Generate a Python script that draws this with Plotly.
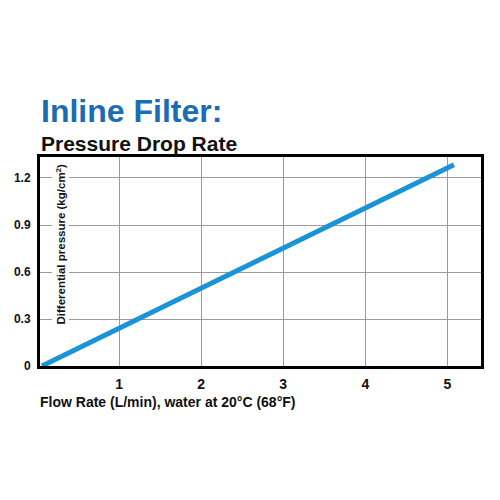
import plotly.graph_objects as go

flow = [0.06, 5.08]
pressure = [0.0, 1.285]
x_ticks = [1, 2, 3, 4, 5]
y_ticks = [0, 0.3, 0.6, 0.9, 1.2]
y_tick_labels = ["0", "0.3", "0.6", "0.9", "1.2"]

W, H = 492, 492
L, R, T, B = 32, 19, 149, 134
PW, PH = W - L - R, H - T - B

fig = go.Figure()
fig.add_trace(go.Scatter(x=flow, y=pressure, mode="lines",
                         line=dict(color="#1a94d6", width=5), showlegend=False))

fig.update_layout(
    width=W, height=H,
    margin=dict(l=L, r=R, t=T, b=B),
    paper_bgcolor="white", plot_bgcolor="white",
    font=dict(family="Liberation Sans, Arial, sans-serif", color="#111"),
    xaxis=dict(range=[0.037, 5.41], tickvals=x_ticks,
               ticktext=["<b>%s</b>" % v for v in x_ticks],
               showgrid=True, gridcolor="#9a9a9a", gridwidth=1.3, zeroline=False,
               showline=True, linecolor="black", linewidth=3, mirror=True,
               ticks="", tickfont=dict(size=14, family="Liberation Sans", color="#111"),
               ticklabelstandoff=3, automargin=False),
    yaxis=dict(range=[0, 1.334], tickvals=y_ticks,
               ticktext=["<b>%s</b>" % v for v in y_tick_labels],
               showgrid=True, gridcolor="#9a9a9a", gridwidth=1.3, zeroline=False,
               showline=True, linecolor="black", linewidth=3, mirror=True,
               ticks="", tickfont=dict(size=12, family="Liberation Sans", color="#111"),
               ticklabelstandoff=4, automargin=False),
)

fig.add_annotation(text="<b>Differential pressure (kg/cm<sup>2</sup>)</b>", xref="paper", yref="paper",
                   x=(52 - L) / PW, y=((H - B) - 319) / PH, xanchor="center", yanchor="bottom",
                   textangle=-90, showarrow=False, bgcolor="white", borderpad=1,
                   font=dict(size=11.5, color="#111", family="Liberation Sans Narrow, Liberation Sans"))
fig.add_annotation(text="<b>Inline Filter:</b>", xref="paper", yref="paper",
                   x=-0.003, y=1.0 + (T - 103) / PH, xanchor="left", yanchor="middle",
                   showarrow=False, font=dict(size=32, color="#1b6cb3", family="Liberation Sans"))
fig.add_annotation(text="<b>Pressure Drop Rate</b>", xref="paper", yref="paper",
                   x=-0.003, y=1.0 + (T - 135) / PH, xanchor="left", yanchor="middle",
                   showarrow=False, font=dict(size=21, color="#111", family="Liberation Sans"))
fig.add_annotation(text="<b>Flow Rate (L/min), water at 20°C (68°F)</b>", xref="paper", yref="paper",
                   x=-0.005, y=-(394 - (H - B)) / PH, xanchor="left", yanchor="middle",
                   showarrow=False, font=dict(size=14, color="#111", family="Liberation Sans"))

fig.write_html("out.html")
